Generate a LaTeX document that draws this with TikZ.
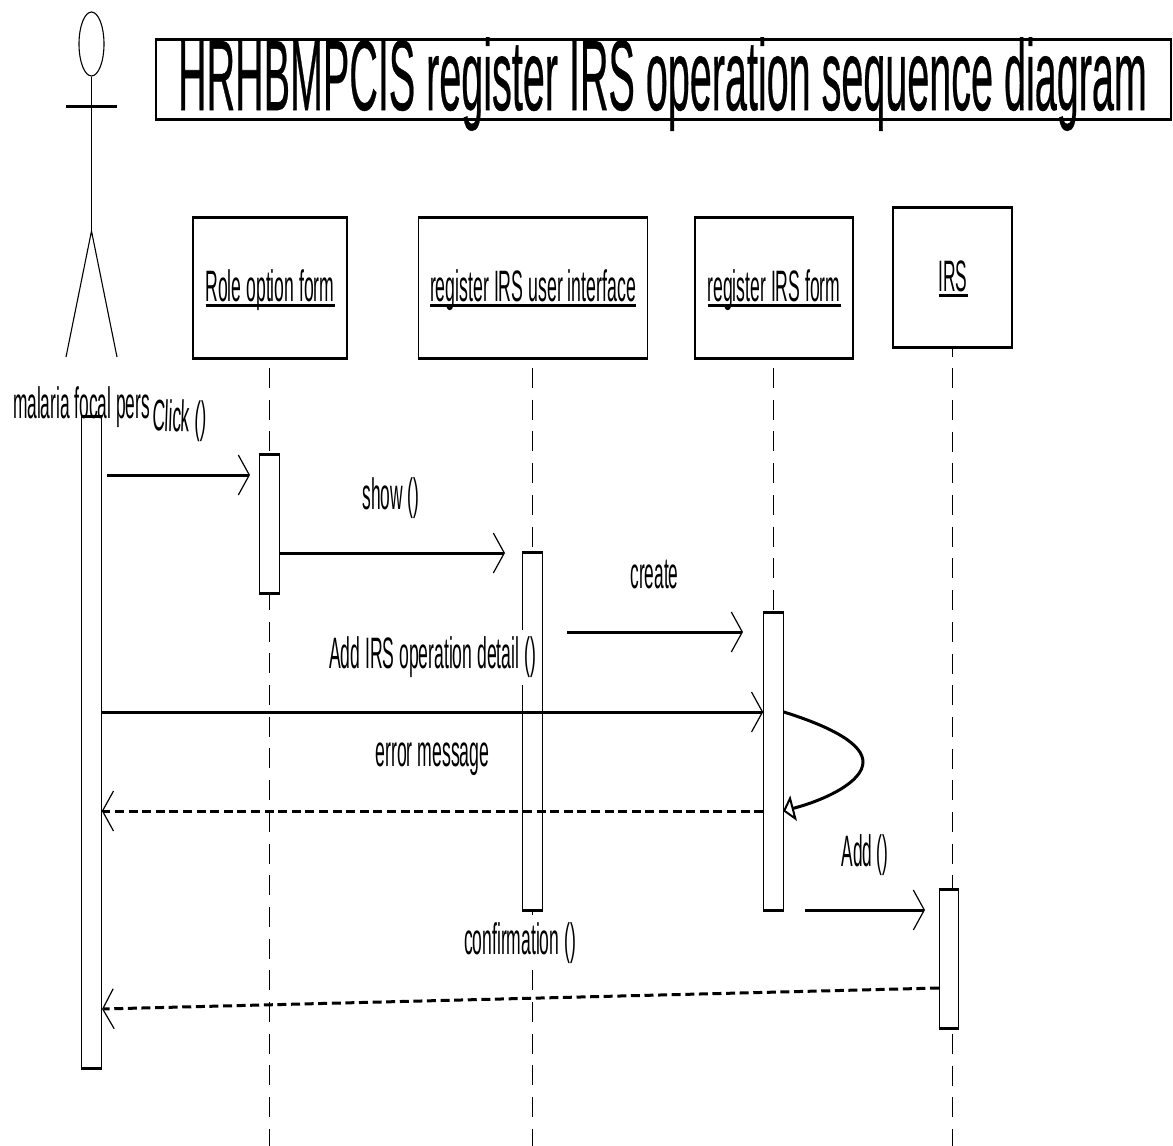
\documentclass[tikz,border=0pt]{standalone}
\usepackage{graphicx}
\usepackage{fontspec}
\setmainfont{Liberation Sans}[BoldFont=Liberation Sans,BoldFeatures={FakeBold=0.6}]
\usetikzlibrary{arrows.meta,shapes.geometric}
% squeezed text: width in px, then the words
\newcommand{\narrow}[2]{\resizebox{#1pt}{\height}{#2}}
\newcommand{\narrowul}[2]{\resizebox{#1pt}{\height}{\vtop{\hbox{\raisebox{0pt}[\height][0pt]{#2}}\kern3pt\hrule height 2.6pt}}}
\tikzset{
  thinline/.style={line width=1.1pt},
  hrule/.style={line width=3pt},
  box/.style={draw,line width=1.1pt,inner sep=0pt},
  bar/.style={box,fill=white,minimum width=19.5pt},
  txt/.style={inner sep=0pt,anchor=base,font=\fontsize{44pt}{44pt}\selectfont},
  txtbg/.style={txt,fill=white,inner ysep=7pt},
  lifeline/.style={line width=1.1pt,dash pattern=on 20pt off 11.7pt},
  msg/.style={hrule,-{Straight Barb[length=11pt,width=40pt,line width=1.2pt]}},
  reply/.style={msg,dash pattern=on 9pt off 4.6pt},
}
\begin{document}
\begin{tikzpicture}[x=1pt,y=-1pt]
\useasboundingbox (0,0) rectangle (1173,1146);
% actor
\node[ellipse,draw,thinline,minimum width=25pt,minimum height=64pt,inner sep=0pt] (head) at (91.5,44) {};
\coordinate (hip) at (91.5,231);
\coordinate (armL) at (66,106);\coordinate (armR) at (117,106);
\coordinate (footL) at (66,357);\coordinate (footR) at (117,357);
\draw[thinline] (head.south)--(hip);
\draw[hrule] (armL)--(armR);
\draw[thinline] (footL)--(hip)--(footR);
% title and objects
\node[box,minimum width=1015pt,minimum height=79pt] (title) at (663.5,79.5) {};
\node[txt,font=\fontsize{100pt}{100pt}\selectfont\bfseries] (titletext) at (662.5,110) {\narrow{969}{HRHBMPCIS register IRS operation sequence diagram}};
\node[box,minimum width=154pt,minimum height=139pt] (role) at (270,288) {};
\node[box,minimum width=229pt,minimum height=139pt] (ui) at (533,288) {};
\node[box,minimum width=158pt,minimum height=139pt] (form) at (774,288) {};
\node[box,minimum width=119pt,minimum height=139pt] (irs) at (952.5,277.5) {};
\node[txt] (rolelabel) at (270,301) {\narrowul{129}{Role option form}};
\node[txt] (uilabel) at (533,301) {\narrowul{206}{register IRS user interface}};
\node[txt] (formlabel) at (774,301) {\narrowul{133}{register IRS form}};
\node[txt] (irslabel) at (953,291) {\narrowul{29}{IRS}};
% lifelines
\coordinate (roletop) at (269.5,368);\coordinate (uitop) at (532.5,368);\coordinate (formtop) at (773.5,368);\coordinate (irstop) at (952.5,347);
\coordinate (roleend) at (269.5,1146);\coordinate (uiend) at (532.5,1146);\coordinate (formend) at (773.5,800);\coordinate (irsend) at (952.5,1146);
\draw[lifeline] (roletop)--(roleend);
\draw[lifeline] (uitop)--(uiend);
\draw[lifeline] (formtop)--(formend);
\draw[lifeline,dash phase=10.5pt] (irstop)--(irsend);
% activation bars
\node[bar,minimum height=651pt] (focalbar) at (91.5,742.5) {};
\node[bar,minimum height=138pt] (rolebar) at (269.5,524) {};
\node[bar,minimum height=357pt] (uibar) at (532.5,731.5) {};
\node[bar,minimum height=297pt] (formbar) at (773.5,761.5) {};
\node[bar,minimum height=138pt] (irsbar) at (949,959) {};
\foreach \b in {title,role,ui,form,irs,focalbar,rolebar,uibar,formbar,irsbar}{
  \draw[hrule] (\b.north west)--(\b.north east);
  \draw[hrule] (\b.south west)--(\b.south east);
}
\node[txt] (focal) at (81.5,418.5) {\narrow{137}{malaria focal pers}};
% labels
\node[txt,rotate=-2] (clicklabel) at (179,431.5) {\narrow{54}{Click ()}};
\node[txt] (showlabel) at (391,509.5) {\narrow{57}{show ()}};
\node[txt] (createlabel) at (654.5,588.5) {\narrow{48}{create}};
\node[txtbg] (detaillabel) at (432.5,668.5) {\narrow{207}{Add IRS operation detail ()}};
\node[txt] (errorlabel) at (432.5,766.5) {\narrow{114}{error message}};
\node[txt] (addlabel) at (865,866) {\narrow{47}{Add ()}};
\node[txtbg] (confirmlabel) at (520,954) {\narrow{112}{confirmation ()}};
% messages
\coordinate (clickfrom) at (107,475);\coordinate (clickto) at (250,475);
\coordinate (showto) at (505,553);
\coordinate (createfrom) at (567,632);\coordinate (createto) at (743,632);
\coordinate (addfrom) at (805,910);\coordinate (addto) at (925,910);
\coordinate (confirmfrom) at (939,988);\coordinate (confirmto) at (102,1009);
\draw[msg] (clickfrom)--(clickto);
\draw[msg] (rolebar.east |- showto)--(showto);
\draw[msg] (createfrom)--(createto);
\draw[msg] (focalbar.east |- 0,712)--(formbar.west |- 0,712);
\draw[reply] (formbar.west |- 0,811)--(focalbar.east |- 0,811);
\draw[hrule,-{Triangle[open,length=11pt,width=26pt,line width=2pt]}] (formbar.east |- 0,712) .. controls (835,728) and (863,745) .. (863,762) .. controls (863,782) and (825,800) .. (783,811);
\draw[msg] (addfrom)--(addto);
\draw[reply] (confirmfrom)--(confirmto);
\end{tikzpicture}
\end{document}
